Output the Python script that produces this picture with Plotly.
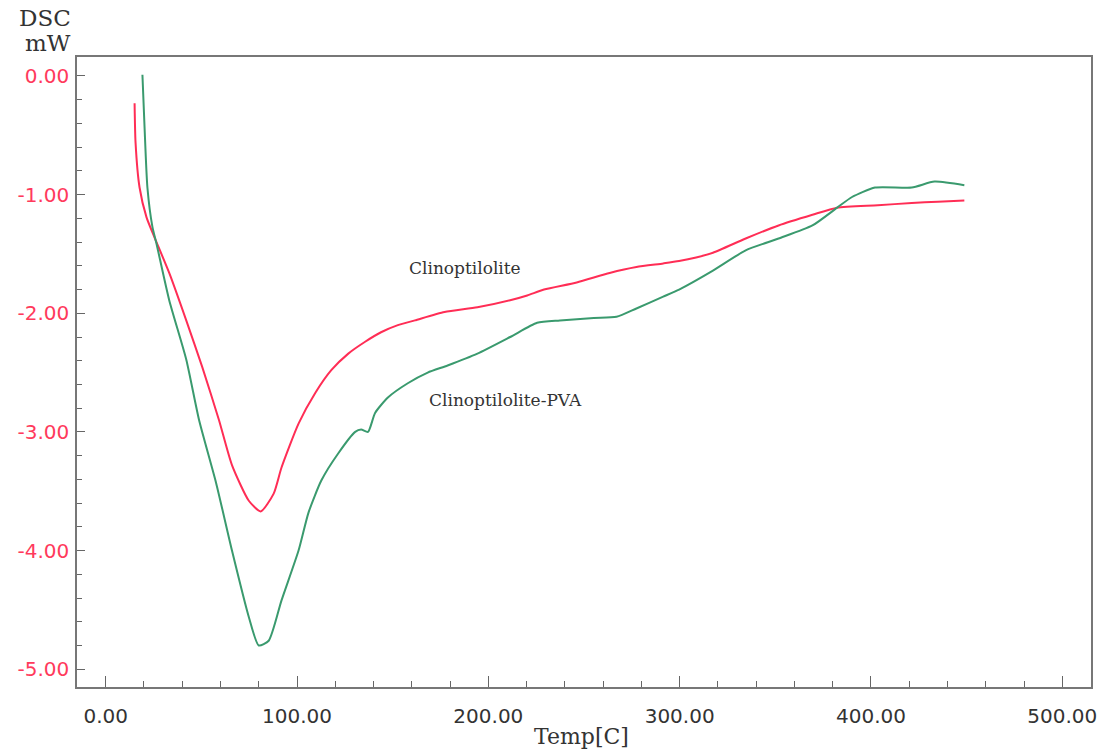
import plotly.graph_objects as go

# Clinoptilolite (red)
clino_temp = [15.1, 15.6, 17.7, 21.3, 25.5, 33.2, 42.1, 50.4, 59.2, 66.0, 74.8, 81.0,
              87.8, 91.9, 100.8, 109.6, 117.9, 126.8, 135.6, 143.9, 152.7, 161.6, 177.1,
              194.3, 211.4, 220.3, 229.1, 246.2, 263.4, 277.4, 291.4, 299.7, 308.6, 317.4,
              334.5, 351.7, 369.4, 382.3, 403.6, 421.3, 435.0, 448.8]
clino_dsc = [-0.23, -0.56, -0.94, -1.19, -1.36, -1.66, -2.06, -2.45, -2.90, -3.28, -3.58, -3.67,
             -3.52, -3.30, -2.93, -2.67, -2.48, -2.34, -2.24, -2.16, -2.10, -2.06, -1.99,
             -1.95, -1.89, -1.85, -1.80, -1.74, -1.66, -1.61, -1.58, -1.56, -1.53, -1.49,
             -1.37, -1.26, -1.17, -1.11, -1.09, -1.07, -1.06, -1.05]

# Clinoptilolite-PVA (green)
pva_temp = [19.2, 20.3, 21.8, 24.4, 26.5, 33.2, 42.1, 48.8, 57.7, 66.0, 74.8, 80.0,
            85.2, 91.9, 100.8, 106.0, 112.7, 121.6, 130.4, 133.5, 137.1, 140.8, 147.5,
            157.9, 168.3, 178.7, 194.3, 211.4, 225.5, 237.4, 255.1, 267.0, 277.4, 291.4,
            299.7, 317.4, 334.5, 351.7, 369.4, 382.3, 390.1, 402.1, 421.3, 433.2, 448.8]
pva_dsc = [0.01, -0.43, -0.94, -1.27, -1.41, -1.89, -2.39, -2.90, -3.43, -4.00, -4.56, -4.80,
           -4.76, -4.42, -4.00, -3.68, -3.41, -3.18, -3.00, -2.98, -3.00, -2.84, -2.71,
           -2.59, -2.50, -2.44, -2.34, -2.20, -2.08, -2.06, -2.04, -2.03, -1.96, -1.86,
           -1.80, -1.64, -1.47, -1.37, -1.26, -1.11, -1.02, -0.94, -0.94, -0.89, -0.92]

x_tickvals = [0, 100, 200, 300, 400, 500]
x_ticktext = ["0.00", "100.00", "200.00", "300.00", "400.00", "500.00"]
y_tickvals = [0, -1, -2, -3, -4, -5]
y_ticktext = ["0.00", "-1.00", "-2.00", "-3.00", "-4.00", "-5.00"]

fig = go.Figure()
fig.add_trace(go.Scatter(x=clino_temp, y=clino_dsc, mode="lines",
                         line=dict(color="#ff2d55", width=2, shape="spline", smoothing=0.6),
                         name="Clinoptilolite", showlegend=False))
fig.add_trace(go.Scatter(x=pva_temp, y=pva_dsc, mode="lines",
                         line=dict(color="#3a9a6e", width=2, shape="spline", smoothing=0.6),
                         name="Clinoptilolite-PVA", showlegend=False))

fig.update_layout(
    width=1107, height=755,
    margin=dict(l=77, r=10, t=57, b=68),
    paper_bgcolor="white", plot_bgcolor="white",
    xaxis=dict(range=[-15, 515], tickmode="array", tickvals=x_tickvals, ticktext=x_ticktext,
               ticks="inside", ticklen=11, tickcolor="#666", tickwidth=1,
               minor=dict(tickmode="linear", dtick=20, tick0=0, ticks="inside", ticklen=6,
                          tickcolor="#666", tickwidth=1),
               showline=True, linecolor="#777", linewidth=1.5, mirror=True,
               showgrid=False, zeroline=False, ticklabelstandoff=10,
               tickfont=dict(family="DejaVu Sans", size=20, color="#333")),
    yaxis=dict(range=[-5.15, 0.16], tickmode="array", tickvals=y_tickvals, ticktext=y_ticktext,
               ticks="inside", ticklen=8, tickcolor="#666", tickwidth=1,
               minor=dict(tickmode="linear", dtick=0.2, tick0=0, ticks="inside", ticklen=5,
                          tickcolor="#666", tickwidth=1),
               showline=True, linecolor="#777", linewidth=1.5, mirror=True,
               showgrid=False, zeroline=False, ticklabelstandoff=2,
               tickfont=dict(family="DejaVu Sans", size=20, color="#ff3a5c")),
    annotations=[
        dict(text="DSC", xref="paper", yref="paper", x=-0.004, y=1.062, xanchor="right", yanchor="middle",
             showarrow=False, font=dict(family="DejaVu Serif", size=23, color="#333")),
        dict(text="mW", xref="paper", yref="paper", x=-0.004, y=1.022, xanchor="right", yanchor="middle",
             showarrow=False, font=dict(family="DejaVu Serif", size=23, color="#333")),
        dict(text="Temp[C]", xref="paper", yref="paper", x=0.498, y=-0.079, xanchor="center", yanchor="middle",
             showarrow=False, font=dict(family="DejaVu Serif", size=22, color="#333")),
        dict(text="Clinoptilolite", x=187.6, y=-1.62, xref="x", yref="y", showarrow=False,
             font=dict(family="DejaVu Serif", size=17, color="#333")),
        dict(text="Clinoptilolite-PVA", x=209, y=-2.73, xref="x", yref="y", showarrow=False,
             font=dict(family="DejaVu Serif", size=17, color="#333")),
    ],
)

fig.write_html("out.html")
